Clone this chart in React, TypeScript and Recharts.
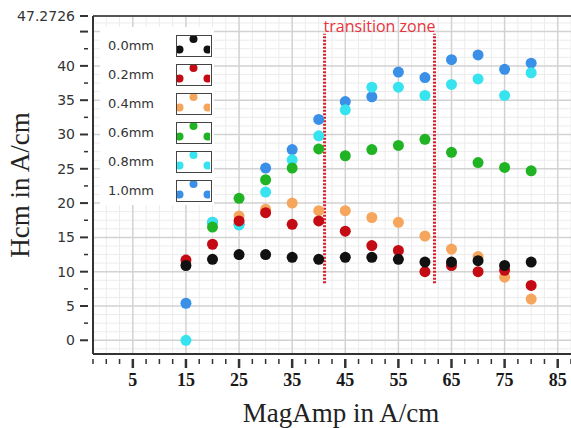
import React from 'react';
import {
  ScatterChart,
  Scatter,
  XAxis,
  YAxis,
  CartesianGrid,
  ReferenceLine,
  ReferenceDot,
  Label,
  Legend
} from 'recharts';

// MagAmp (A/cm) sampled for every thickness
const magAmp = [15, 20, 25, 30, 35, 40, 45, 50, 55, 60, 65, 70, 75, 80];

// Hcm (A/cm) per thickness, null where no point is visible
const h00 = [10.9, 11.8, 12.5, 12.5, 12.1, 11.8, 12.1, 12.1, 11.8, 11.4, 11.4, 11.6, 10.9, 11.4];
const h02 = [11.7, 14.0, 17.4, 18.6, 16.9, 17.4, 15.9, 13.8, 13.1, 10.0, 10.9, 10.0, 10.2, 8.0];
const h04 = [null, null, 18.1, 19.1, 20.0, 18.9, 18.9, 17.9, 17.2, 15.2, 13.3, 12.2, 9.2, 6.0];
const h06 = [null, 16.5, 20.7, 23.4, 25.1, 27.9, 26.9, 27.8, 28.4, 29.3, 27.4, 25.9, 25.2, 24.7];
const h08 = [0.0, 17.2, 16.8, 21.6, 26.3, 29.8, 33.6, 36.9, 36.9, 35.7, 37.3, 38.1, 35.7, 39.0];
const h10 = [5.4, 17.2, 16.9, 25.1, 27.8, 32.2, 34.8, 35.5, 39.1, 38.3, 40.9, 41.6, 39.5, 40.4];

const seriesNames = ['0.0mm', '0.2mm', '0.4mm', '0.6mm', '0.8mm', '1.0mm'];
const seriesValues = [h00, h02, h04, h06, h08, h10];
const seriesColors = ['#111111', '#c40a12', '#f6a55c', '#20b424', '#36e3ef', '#3a8fe6'];

// axes
const xDomain = [-2.5, 87.5];
const yMax = 47.2726;
const yDomain = [-2, yMax];
const xLabels = [5, 15, 25, 35, 45, 55, 65, 75, 85];
const yLabels = [0, 5, 10, 15, 20, 25, 30, 35, 40, yMax];

// transition zone bounds
const zoneStart = 41.1;
const zoneEnd = 61.8;
const zoneLow = 8.3;
const zoneHigh = 44.7;

const xTicks = Array.from({ length: 37 }, (_, i) => -2.5 + i * 2.5);
const yTicks = [...Array.from({ length: 19 }, (_, i) => i * 2.5), yMax];
const xMajorGrid = xLabels;
const yMajorGrid = Array.from({ length: 10 }, (_, i) => i * 5);
const xMinorGrid = xTicks.filter((v) => !xMajorGrid.includes(v));
const yMinorGrid = Array.from({ length: 39 }, (_, i) => -1.25 + i * 1.25).filter((v) => v % 5 !== 0);

const buildData = (values: (number | null)[]) =>
  magAmp
    .map((x, i) => ({ x, y: values[i] }))
    .filter((d) => d.y !== null);

const XTick = (props: any) => {
  const { x, y, payload } = props;
  const major = xLabels.includes(payload.value);
  return (
    <g>
      <line
        x1={x}
        x2={x}
        y1={y + 3}
        y2={y + (major ? 12 : 8)}
        stroke="#333"
        strokeWidth={major ? 2.5 : 1.5}
      />
      {major && (
        <text
          x={x}
          y={y + 30}
          textAnchor="middle"
          fontFamily="'Liberation Serif', serif"
          fontWeight="bold"
          fontSize={18}
          fill="#1a1a1a"
        >
          {payload.value}
        </text>
      )}
    </g>
  );
};

const YTick = (props: any) => {
  const { x, y, payload } = props;
  const v = payload.value;
  const major = v % 5 === 0 || v === yMax;
  return (
    <g>
      <line
        x1={x - (major ? 11 : 7)}
        x2={x - 3}
        y1={y}
        y2={y}
        stroke="#333"
        strokeWidth={major ? 2 : 1.5}
      />
      {yLabels.includes(v) && (
        <text
          x={x - 16}
          y={y}
          dy={5}
          textAnchor="end"
          fontFamily="'DejaVu Sans', sans-serif"
          fontSize={14}
          fill="#333"
        >
          {v}
        </text>
      )}
    </g>
  );
};

const LegendBox = () => (
  <div
    style={{
      width: 114,
      height: 178,
      background: '#fff',
      boxSizing: 'border-box',
      paddingTop: 4
    }}
  >
    {seriesNames.map((name, i) => (
      <div key={name} style={{ display: 'flex', alignItems: 'center', height: 29 }}>
        <span
          style={{
            width: 68,
            paddingLeft: 8,
            fontFamily: "'DejaVu Sans', sans-serif",
            fontSize: 13,
            color: '#333'
          }}
        >
          {name}
        </span>
        <div
          style={{
            width: 36,
            height: 22,
            border: '1.5px solid #444',
            boxSizing: 'border-box',
            overflow: 'hidden'
          }}
        >
          <svg width={33} height={19} style={{ display: 'block' }}>
            <circle cx={16.5} cy={3} r={4} fill={seriesColors[i]} />
            <circle cx={2.5} cy={13.5} r={4} fill={seriesColors[i]} />
            <circle cx={30.5} cy={13.5} r={4} fill={seriesColors[i]} />
          </svg>
        </div>
      </div>
    ))}
  </div>
);

export default function App() {
  const drawOrder = [5, 4, 3, 2, 1, 0];
  return (
    <div style={{ position: 'absolute', left: 0, top: 0, background: '#fff' }}>
      <ScatterChart width={571} height={428} margin={{ top: 16, right: 0, bottom: 0, left: 0 }}>
        <CartesianGrid
          stroke="#ececec"
          strokeWidth={1}
          horizontalValues={yMinorGrid}
          verticalValues={xMinorGrid}
        />
        <CartesianGrid
          stroke="#d2d2d2"
          strokeWidth={1.5}
          horizontalValues={yMajorGrid}
          verticalValues={xMajorGrid}
        />
        <XAxis
          dataKey="x"
          type="number"
          domain={xDomain}
          ticks={xTicks}
          interval={0}
          height={74}
          tickSize={0}
          tickLine={false}
          tick={<XTick />}
          axisLine={{ stroke: '#333', strokeWidth: 2 }}
          allowDataOverflow
        >
          <Label
            value="MagAmp in A/cm"
            position="insideBottom"
            offset={6}
            dx={9}
            fontFamily="'Liberation Serif', serif"
            fontSize={27}
            fill="#222"
          />
        </XAxis>
        <YAxis
          dataKey="y"
          type="number"
          domain={yDomain}
          ticks={yTicks}
          interval={0}
          width={93}
          tickSize={0}
          tickLine={false}
          tick={<YTick />}
          axisLine={{ stroke: '#333', strokeWidth: 2 }}
          allowDataOverflow
        >
          <Label
            content={(p: any) => {
              const vb = p.viewBox;
              const cy = vb.y + vb.height / 2;
              return (
                <text
                  x={29}
                  y={cy}
                  transform={`rotate(-90 29 ${cy})`}
                  textAnchor="middle"
                  fontFamily="'Liberation Serif', serif"
                  fontSize={27}
                  fill="#222"
                >
                  Hcm in A/cm
                </text>
              );
            }}
          />
        </YAxis>
        <ReferenceLine y={yMax} stroke="#555" strokeWidth={2} />
        <ReferenceLine
          segment={[{ x: zoneStart, y: zoneLow }, { x: zoneStart, y: zoneHigh }]}
          stroke="#d81e28"
          strokeWidth={3}
          strokeDasharray="2 1.5"
        />
        <ReferenceLine
          segment={[{ x: zoneEnd, y: zoneLow }, { x: zoneEnd, y: zoneHigh }]}
          stroke="#d81e28"
          strokeWidth={3}
          strokeDasharray="2 1.5"
        />
        <ReferenceDot x={(zoneStart + zoneEnd) / 2} y={45.8} r={0} stroke="none" fill="none">
          <Label
            value="transition zone"
            position="center"
            fontFamily="'Open Sans', sans-serif"
            fontSize={16}
            fill="#e8333d"
          />
        </ReferenceDot>
        {drawOrder.map((i) => (
          <Scatter
            key={seriesNames[i]}
            name={seriesNames[i]}
            data={buildData(seriesValues[i])}
            fill={seriesColors[i]}
            isAnimationActive={false}
            shape={(p: any) => <circle cx={p.cx} cy={p.cy} r={5.5} fill={seriesColors[i]} />}
          />
        ))}
        <Legend
          layout="vertical"
          align="center"
          verticalAlign="middle"
          content={<LegendBox />}
          wrapperStyle={{ position: 'absolute', left: 100, top: 27, width: 114, height: 178 }}
        />
      </ScatterChart>
    </div>
  );
}
